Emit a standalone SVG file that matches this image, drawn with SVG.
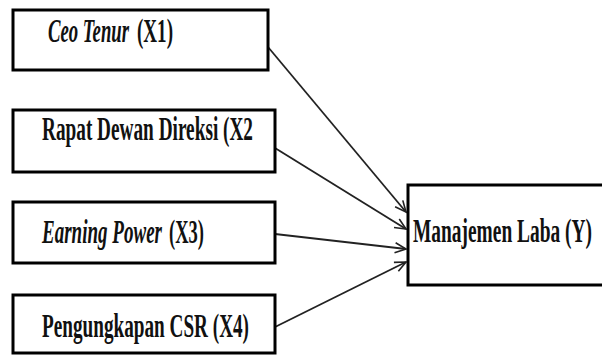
<svg xmlns="http://www.w3.org/2000/svg" width="602" height="356" viewBox="0 0 602 356">
<style>
.box{fill:#fff;stroke:#000;stroke-width:3}
.t{font-family:"Liberation Serif","DejaVu Serif",serif;font-size:33px;font-weight:bold;fill:#111}
.i{font-style:italic}
.c{fill:none;stroke:#222;stroke-width:1.8}
</style>
<defs>
<marker id="ah" markerWidth="14" markerHeight="14" refX="12" refY="6" orient="auto" markerUnits="userSpaceOnUse">
<path d="M1,1 L12,6 L1,11" fill="none" stroke="#222" stroke-width="1.6"/>
</marker>
</defs>
<rect width="602" height="356" fill="#fff"/>
<g id="connectors">
<line class="c" x1="268" y1="47" x2="406" y2="212" marker-end="url(#ah)"/>
<line class="c" x1="275" y1="148" x2="406" y2="229" marker-end="url(#ah)"/>
<line class="c" x1="275" y1="234" x2="406" y2="249" marker-end="url(#ah)"/>
<line class="c" x1="275" y1="327" x2="406" y2="262" marker-end="url(#ah)"/>
</g>
<g id="x1">
<rect class="box" x="13" y="10" width="255" height="60"/>
<text class="t i" transform="translate(48,42) scale(0.58,1)" textLength="139.7" lengthAdjust="spacingAndGlyphs">Ceo Tenur</text>
<text class="t" transform="translate(137,42) scale(0.58,1)" textLength="62.1" lengthAdjust="spacingAndGlyphs">(X1)</text>
</g>
<g id="x2">
<rect class="box" x="13" y="110" width="262" height="62"/>
<text class="t" transform="translate(42,140) scale(0.58,1)" textLength="363.8" lengthAdjust="spacingAndGlyphs">Rapat Dewan Direksi (X2</text>
</g>
<g id="x3">
<rect class="box" x="13" y="202" width="262" height="61"/>
<text class="t i" transform="translate(42,243) scale(0.58,1)" textLength="206.9" lengthAdjust="spacingAndGlyphs">Earning Power</text>
<text class="t" transform="translate(169,243) scale(0.58,1)" textLength="60.3" lengthAdjust="spacingAndGlyphs">(X3)</text>
</g>
<g id="x4">
<rect class="box" x="13" y="295" width="262" height="58"/>
<text class="t" transform="translate(42,337) scale(0.58,1)" textLength="356.9" lengthAdjust="spacingAndGlyphs">Pengungkapan CSR (X4)</text>
</g>
<g id="y">
<rect class="box" x="408" y="185" width="200" height="100"/>
<text class="t" transform="translate(413,242) scale(0.58,1)" textLength="308.6" lengthAdjust="spacingAndGlyphs">Manajemen Laba (Y)</text>
</g>
</svg>
